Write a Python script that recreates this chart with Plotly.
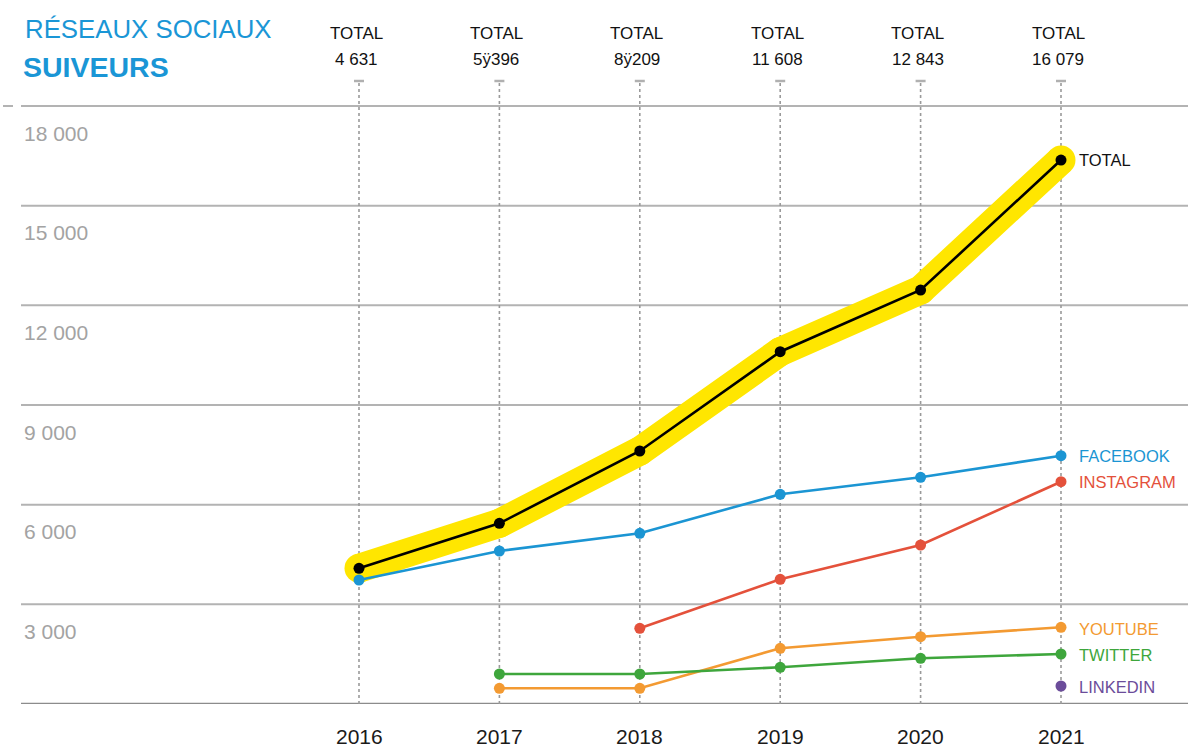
import plotly.graph_objects as go

years = [2016, 2017, 2018, 2019, 2020, 2021]
total_vals = [4085, 5439, 7615, 10604, 12461, 16374]
facebook_vals = [3732, 4605, 5138, 6312, 6824, 7474]
instagram_years = [2018, 2019, 2020, 2021]
instagram_vals = [2279, 3753, 4786, 6691]
youtube_years = [2017, 2018, 2019, 2020, 2021]
youtube_vals = [473, 473, 1677, 2026, 2309]
twitter_years = [2017, 2018, 2019, 2020, 2021]
twitter_vals = [903, 903, 1105, 1376, 1505]
linkedin_years = [2021]
linkedin_vals = [542]

header_totals = ["4 631", "5ÿ396", "8ÿ209", "11 608", "12 843", "16 079"]
y_ticks = [3000, 6000, 9000, 12000, 15000, 18000]
y_tick_labels = ["3 000", "6 000", "9 000", "12 000", "15 000", "18 000"]

W, H = 1188, 748
PLOT_BOTTOM = 704  # px
px_per_year = 140.4
x0_px = 359
x_range = [years[0] - x0_px / px_per_year, years[0] + (W - x0_px) / px_per_year]
units_per_px = 18000 / 598
y_range = [0, PLOT_BOTTOM * units_per_px]

FONT = "Arial, Liberation Sans, sans-serif"
C_FB = "#1b95d3"
C_IG = "#e4513b"
C_YT = "#f39a32"
C_TW = "#3ea63c"
C_LI = "#6b4c9a"
C_YEL = "#ffe600"
C_TITLE = "#1a96d6"

fig = go.Figure()

# Yellow highlight behind total
fig.add_trace(go.Scatter(x=years, y=total_vals, mode="lines+markers",
                         line=dict(color=C_YEL, width=29),
                         marker=dict(color=C_YEL, size=29),
                         hoverinfo="skip", showlegend=False))

def series(xs, ys, color, width=2.6, size=11):
    fig.add_trace(go.Scatter(x=xs, y=ys, mode="lines+markers",
                             line=dict(color=color, width=width),
                             marker=dict(color=color, size=size),
                             showlegend=False))

series(years, facebook_vals, C_FB)
series(instagram_years, instagram_vals, C_IG)
series(youtube_years, youtube_vals, C_YT)
series(twitter_years, twitter_vals, C_TW)
series(linkedin_years, linkedin_vals, C_LI)
series(years, total_vals, "#000000", width=2.6, size=11)

shapes = []
# horizontal gridlines
for v in y_ticks:
    shapes.append(dict(type="line", xref="paper", yref="y", x0=21 / W, x1=1, y0=v, y1=v,
                       line=dict(color="#b3b3b3", width=2), layer="below"))
# small dash left of top gridline
shapes.append(dict(type="line", xref="paper", yref="y", x0=3 / W, x1=13 / W,
                   y0=y_ticks[-1], y1=y_ticks[-1],
                   line=dict(color="#b3b3b3", width=2), layer="below"))
# baseline
shapes.append(dict(type="line", xref="paper", yref="y", x0=21 / W, x1=1, y0=0, y1=0,
                   line=dict(color="#8c8c8c", width=2.5), layer="below"))
# vertical dotted lines with top dash
top_v = (PLOT_BOTTOM - 81) * units_per_px
for yr in years:
    shapes.append(dict(type="line", xref="x", yref="y", x0=yr, x1=yr, y0=0, y1=top_v,
                       line=dict(color="#9a9a9a", width=1.6, dash="dot"), layer="below"))
    shapes.append(dict(type="line", xref="x", yref="y", x0=yr - 5 / px_per_year,
                       x1=yr + 5 / px_per_year, y0=top_v, y1=top_v,
                       line=dict(color="#b0b0b0", width=2.5), layer="below"))

ann = []
# y tick labels
for v, t in zip(y_ticks, y_tick_labels):
    ann.append(dict(text=t, xref="paper", yref="y", x=22 / W, y=v, xanchor="left",
                    yanchor="middle", yshift=-27, showarrow=False,
                    font=dict(family=FONT, size=21, color="#a3a3a3")))
# title
ann.append(dict(text="RÉSEAUX SOCIAUX", xref="paper", yref="paper", x=23 / W,
                y=(PLOT_BOTTOM - 29) / PLOT_BOTTOM, xanchor="left", yanchor="middle",
                showarrow=False, font=dict(family=FONT, size=25.8, color=C_TITLE)))
ann.append(dict(text="<b>SUIVEURS</b>", xref="paper", yref="paper", x=21 / W,
                y=(PLOT_BOTTOM - 67) / PLOT_BOTTOM, xanchor="left", yanchor="middle",
                showarrow=False, font=dict(family=FONT, size=28.5, color=C_TITLE)))
# header totals and bottom years
for yr, t in zip(years, header_totals):
    ann.append(dict(text="TOTAL", xref="x", yref="paper", x=yr, xshift=-3,
                    y=(PLOT_BOTTOM - 33) / PLOT_BOTTOM, xanchor="center", yanchor="middle",
                    showarrow=False, font=dict(family=FONT, size=17, color="#111111")))
    ann.append(dict(text=t, xref="x", yref="paper", x=yr, xshift=-3,
                    y=(PLOT_BOTTOM - 60) / PLOT_BOTTOM, xanchor="center", yanchor="middle",
                    showarrow=False, font=dict(family=FONT, size=17, color="#111111")))
    ann.append(dict(text=str(yr), xref="x", yref="paper", x=yr,
                    y=(PLOT_BOTTOM - 736) / PLOT_BOTTOM, xanchor="center", yanchor="middle",
                    showarrow=False, font=dict(family=FONT, size=21, color="#1a1a1a")))
# right-side series labels
labels = [("TOTAL", total_vals[-1], "#111111", 0),
          ("FACEBOOK", facebook_vals[-1], C_FB, 0),
          ("INSTAGRAM", instagram_vals[-1], C_IG, 0),
          ("YOUTUBE", youtube_vals[-1], C_YT, -2),
          ("TWITTER", twitter_vals[-1], C_TW, -1),
          ("LINKEDIN", linkedin_vals[-1], C_LI, -1)]
for t, v, c, ys in labels:
    ann.append(dict(text=t, xref="x", yref="y", x=years[-1], y=v, xanchor="left",
                    yanchor="middle", xshift=16, yshift=ys, showarrow=False,
                    font=dict(family=FONT, size=16.5, color=c)))

fig.update_layout(
    width=W, height=H,
    margin=dict(l=0, r=0, t=0, b=H - PLOT_BOTTOM),
    paper_bgcolor="white", plot_bgcolor="white",
    xaxis=dict(range=x_range, visible=False, fixedrange=True),
    yaxis=dict(range=y_range, visible=False, fixedrange=True),
    shapes=shapes, annotations=ann, showlegend=False,
)

fig.write_html("out.html", config={"displayModeBar": False},
               post_script="document.body.style.margin='0';document.body.style.overflow='hidden';")
